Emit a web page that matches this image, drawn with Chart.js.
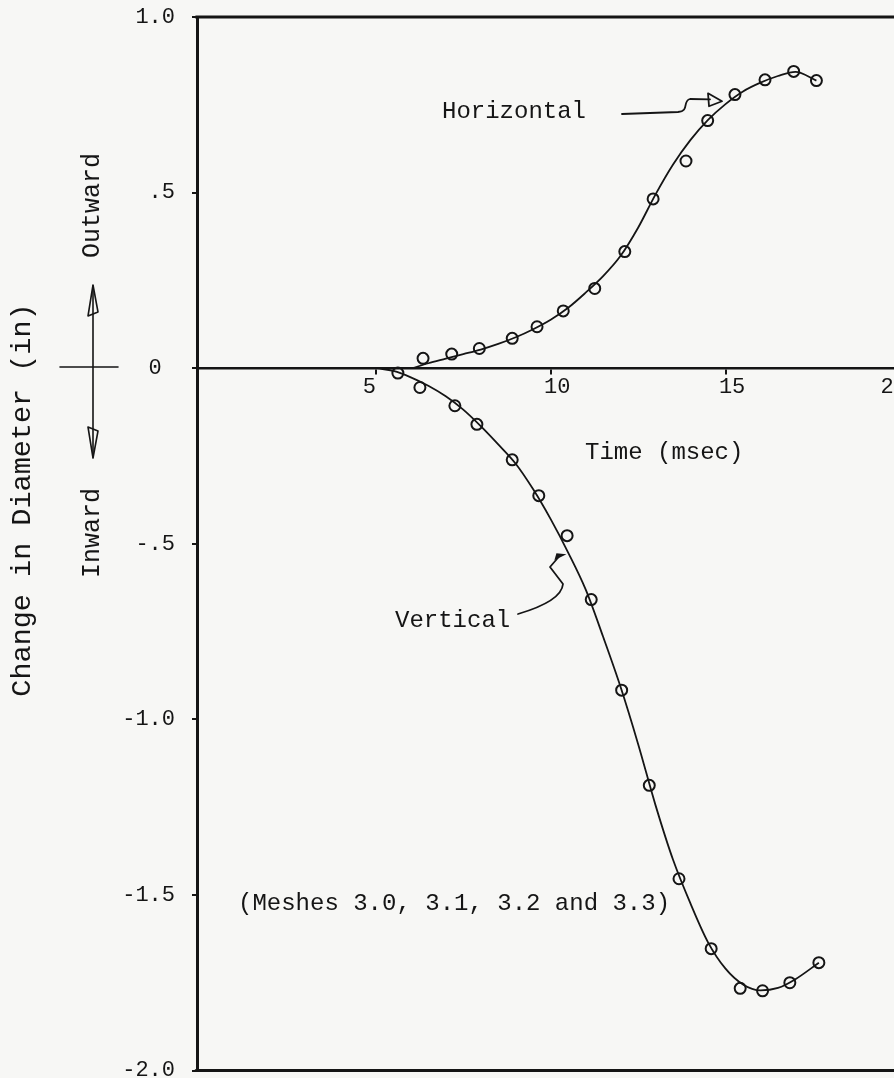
<!DOCTYPE html>
<html><head><meta charset="utf-8">
<script src="https://cdn.jsdelivr.net/npm/chart.js@4.4.1/dist/chart.umd.min.js"></script>
<style>
html,body{margin:0;padding:0;background:#f7f7f5;overflow:hidden;width:894px;height:1078px}
#wrap{position:relative;width:940px;height:1078px}
</style></head>
<body><div id="wrap"><canvas id="c" width="940" height="1078"></canvas></div>
<script>
// ---- data ----
const horizMarkerX = [6.35, 7.17, 7.96, 8.90, 9.61, 10.36, 11.26, 12.12, 12.93, 13.87, 14.49, 15.27, 16.13, 16.95, 17.60];
const horizMarkerY = [0.028, 0.040, 0.056, 0.085, 0.118, 0.163, 0.227, 0.332, 0.482, 0.590, 0.705, 0.779, 0.821, 0.845, 0.819];
const vertMarkerX = [5.63, 6.26, 7.26, 7.89, 8.90, 9.66, 10.47, 11.16, 12.03, 12.82, 13.67, 14.59, 15.42, 16.06, 16.84, 17.67];
const vertMarkerY = [-0.014, -0.055, -0.107, -0.160, -0.261, -0.363, -0.477, -0.659, -0.917, -1.188, -1.454, -1.653, -1.766, -1.773, -1.750, -1.693];
const horizCurveX = [6.05, 6.5, 7.0, 7.5, 8.0, 8.5, 9.0, 9.5, 10.0, 10.5, 11.0, 11.5, 12.0, 12.5, 13.0, 13.5, 14.0, 14.5, 15.0, 15.5, 16.0, 16.5, 17.0, 17.6];
const horizCurveY = [0.0, 0.014, 0.027, 0.040, 0.053, 0.069, 0.088, 0.111, 0.138, 0.172, 0.215, 0.262, 0.320, 0.400, 0.495, 0.580, 0.650, 0.707, 0.752, 0.788, 0.813, 0.832, 0.844, 0.819];
const vertCurveX = [5.04, 5.5, 6.0, 6.5, 7.0, 7.5, 8.0, 8.5, 9.0, 9.5, 10.0, 10.5, 11.0, 11.5, 12.0, 12.5, 13.0, 13.5, 14.0, 14.5, 15.0, 15.5, 16.0, 16.5, 17.0, 17.67];
const vertCurveY = [0.0, -0.008, -0.026, -0.050, -0.080, -0.118, -0.165, -0.217, -0.272, -0.345, -0.430, -0.525, -0.630, -0.765, -0.908, -1.070, -1.245, -1.400, -1.525, -1.635, -1.710, -1.755, -1.772, -1.765, -1.740, -1.693];
const xTickValues = [5, 10, 15, 20];
const xTickText = ['5 ', ' 10', ' 15', '20 '];
const yTickValues = [1, 0.5, 0, -0.5, -1, -1.5, -2];
const yTickText = ['1.0', '.5', '0 ', '-.5', '-1.0', '-1.5', '-2.0'];

const INK = '#151515';
const FONT = '"Liberation Mono", "Courier New", monospace';
const pts = (xs, ys) => xs.map((x, i) => ({x, y: ys[i]}));

const notes = {
  id: 'notes',
  beforeDraw(chart) {
    const c = chart.ctx;
    c.save(); c.fillStyle = '#f7f7f5'; c.fillRect(0, 0, chart.width, chart.height); c.restore();
  },
  afterDraw(chart) {
    const c = chart.ctx, a = chart.chartArea, xs = chart.scales.x, ys = chart.scales.y;
    c.save();
    c.strokeStyle = INK; c.fillStyle = INK; c.lineCap = 'round'; c.lineJoin = 'round';
    // frame top & bottom
    c.lineWidth = 3;
    c.beginPath(); c.moveTo(a.left - 1, a.top); c.lineTo(a.right, a.top);
    c.moveTo(a.left - 1, a.bottom); c.lineTo(a.right, a.bottom); c.stroke();
    // texts
    c.font = '24px ' + FONT; c.textBaseline = 'alphabetic'; c.textAlign = 'left';
    c.fillText('Horizontal', 442, 118);
    c.fillText('Vertical', 395, 627);
    c.fillText('Time (msec)', 585, 459);
    c.fillText('(Meshes 3.0, 3.1, 3.2 and 3.3)', 238, 910);
    // rotated texts
    const rot = (txt, x, y, size, align) => {
      c.save(); c.translate(x, y); c.rotate(-Math.PI / 2);
      c.font = size + 'px ' + FONT; c.textAlign = align; c.textBaseline = 'middle';
      c.fillText(txt, 0, 0); c.restore();
    };
    rot('Change in Diameter (in)', 22, 500, 28.5, 'center');
    rot('Outward', 92, 258, 25, 'left');
    rot('Inward', 92, 578, 25, 'left');
    // outward/inward cross with arrows
    c.lineWidth = 1.6;
    c.beginPath(); c.moveTo(60, 367); c.lineTo(118, 367);
    c.moveTo(93, 286); c.lineTo(93, 457); c.stroke();
    c.beginPath(); c.moveTo(93, 285); c.lineTo(88, 316); c.lineTo(98, 312); c.closePath(); c.stroke();
    c.beginPath(); c.moveTo(93, 458); c.lineTo(88, 427); c.lineTo(98, 431); c.closePath(); c.stroke();
    // Horizontal pointer
    const hx = xs.getPixelForValue(14.9), hy = ys.getPixelForValue(0.76);
    c.lineWidth = 1.8;
    c.beginPath(); c.moveTo(622, 114); c.lineTo(678, 112);
    c.bezierCurveTo(690, 111, 682, 101, 690, 99); c.lineTo(hx - 12, hy - 2); c.stroke();
    c.beginPath(); c.moveTo(hx - 14, hy - 8); c.lineTo(hx, hy); c.lineTo(hx - 13, hy + 5); c.closePath(); c.stroke();
    // Vertical pointer
    const vx = xs.getPixelForValue(10.45), vy = ys.getPixelForValue(-0.53);
    c.beginPath(); c.moveTo(518, 614); c.bezierCurveTo(545, 606, 562, 596, 563, 584);
    c.lineTo(550, 567); c.lineTo(vx - 8, vy + 3); c.stroke();
    c.beginPath(); c.moveTo(vx - 12, vy + 6); c.lineTo(vx, vy); c.lineTo(vx - 10, vy - 1); c.closePath(); c.fill();
    c.restore();
  }
};

new Chart(document.getElementById('c'), {
  type: 'scatter',
  data: {
    datasets: [
      {data: pts(horizCurveX, horizCurveY), showLine: true, borderColor: INK, borderWidth: 1.8, pointRadius: 0, cubicInterpolationMode: 'monotone'},
      {data: pts(vertCurveX, vertCurveY), showLine: true, borderColor: INK, borderWidth: 1.8, pointRadius: 0, cubicInterpolationMode: 'monotone'},
      {data: pts(horizMarkerX, horizMarkerY), showLine: false, pointRadius: 5.5, pointBorderWidth: 2, pointBorderColor: INK, pointBackgroundColor: 'rgba(0,0,0,0)'},
      {data: pts(vertMarkerX, vertMarkerY), showLine: false, pointRadius: 5.5, pointBorderWidth: 2, pointBorderColor: INK, pointBackgroundColor: 'rgba(0,0,0,0)'}
    ]
  },
  options: {
    responsive: false, animation: false, devicePixelRatio: 1,
    layout: {padding: {top: 17, bottom: 5, left: 0, right: 0}},
    plugins: {legend: {display: false}, tooltip: {enabled: false}},
    scales: {
      x: {
        type: 'linear', position: {y: 0}, min: -0.115, max: 20.92,
        afterBuildTicks: s => { s.ticks = xTickValues.map(v => ({value: v})); },
        afterFit: s => { s.paddingLeft = 0; s.paddingRight = 0; },
        ticks: {callback: v => xTickText[xTickValues.indexOf(v)], color: INK, font: {family: FONT, size: 22}, padding: 1, maxRotation: 0, autoSkip: false},
        grid: {drawOnChartArea: false, color: INK, lineWidth: 2, tickLength: 5},
        border: {display: true, color: INK, width: 2.5}
      },
      y: {
        type: 'linear', position: 'left', min: -2, max: 1,
        afterBuildTicks: s => { s.ticks = yTickValues.map(v => ({value: v})); },
        afterFit: s => { s.width = 197; s.paddingTop = 0; s.paddingBottom = 0; },
        ticks: {callback: v => yTickText[yTickValues.indexOf(v)], color: INK, font: {family: FONT, size: 22}, padding: 17, autoSkip: false},
        grid: {drawOnChartArea: false, color: INK, lineWidth: 2, tickLength: 5},
        border: {display: true, color: INK, width: 3}
      }
    }
  },
  plugins: [notes]
});
</script>
</body></html>
